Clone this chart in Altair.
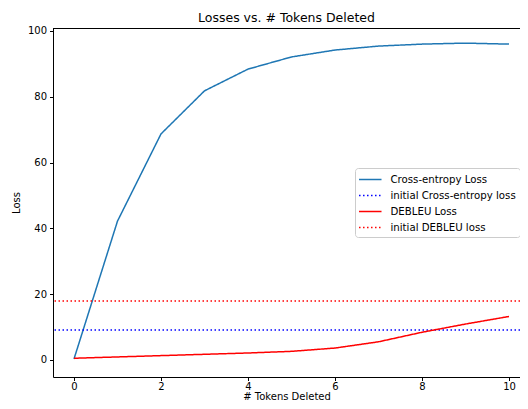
import altair as alt
import pandas as pd

tokens = [0, 1, 2, 3, 4, 5, 6, 7, 8, 9, 10]
ce_loss = [0.3, 42.2, 68.7, 81.8, 88.4, 92.1, 94.2, 95.4, 96.0, 96.3, 96.0]
debleu_loss = [0.5, 0.9, 1.3, 1.7, 2.1, 2.6, 3.6, 5.5, 8.4, 10.9, 13.2]
init_ce = 9.1
init_debleu = 17.9

series_names = ["Cross-entropy Loss", "initial Cross-entropy loss", "DEBLEU Loss", "initial DEBLEU loss"]
series_colors = ["#1f77b4", "#0000ff", "#ff0000", "#ff0000"]
series_dash = [[1, 0], [1.5, 2.5], [1, 0], [1.5, 2.5]]

rows = []
for t, v in zip(tokens, ce_loss):
    rows.append({"x": t, "y": v, "series": series_names[0]})
for t in [-1, 11]:
    rows.append({"x": t, "y": init_ce, "series": series_names[1]})
for t, v in zip(tokens, debleu_loss):
    rows.append({"x": t, "y": v, "series": series_names[2]})
for t in [-1, 11]:
    rows.append({"x": t, "y": init_debleu, "series": series_names[3]})
df = pd.DataFrame(rows)

font = "DejaVu Sans"
W, H = 467, 349

lines = alt.Chart(df).mark_line(strokeWidth=1.5, clip=True).encode(
    x=alt.X("x:Q", scale=alt.Scale(domain=[-0.483, 10.253], nice=False, zero=False),
            axis=alt.Axis(values=[0, 2, 4, 6, 8, 10], title="# Tokens Deleted", format="d",
                          titleY=22, titleBaseline="alphabetic", labelPadding=1)),
    y=alt.Y("y:Q", scale=alt.Scale(domain=[-5.2, 100.9], nice=False, zero=False),
            axis=alt.Axis(values=[0, 20, 40, 60, 80, 100], title="Loss", format="d")),
    color=alt.Color("series:N", scale=alt.Scale(domain=series_names, range=series_colors),
                    legend=alt.Legend(title=None, orient="none", legendX=302, legendY=140)),
    strokeDash=alt.StrokeDash("series:N", scale=alt.Scale(domain=series_names, range=series_dash),
                              legend=alt.Legend(title=None, orient="none", legendX=302, legendY=140)),
    order=alt.Order("x:Q"),
    detail="series:N",
)

top_spine = alt.Chart(pd.DataFrame({"a": [0]})).mark_rule(color="black", strokeWidth=1).encode(
    x=alt.value(0), x2=alt.value(W), y=alt.value(0.5)
)

chart = alt.layer(lines, top_spine).properties(
    width=W, height=H,
    title=alt.TitleParams("Losses vs. # Tokens Deleted", font=font, fontSize=12.5, fontWeight="normal", color="black", offset=1),
    autosize=alt.AutoSizeParams(type="none"),
    padding={"left": 45, "top": 20, "right": 0, "bottom": 24},
).configure_view(
    stroke=None
).configure_axis(
    grid=False, domainColor="black", tickColor="black", tickSize=3.5,
    labelFont=font, labelFontSize=10, labelColor="black", labelPadding=3,
    titleFont=font, titleFontSize=10, titleColor="black", titleFontWeight="normal",
).configure_axisY(titlePadding=6).configure_legend(
    labelFont=font, labelFontSize=10.2, labelColor="black",
    symbolType="M-1.15,0H2.31", symbolSize=169, symbolStrokeWidth=1.5,
    strokeColor="#cccccc", fillColor="white", cornerRadius=3, padding=4,
    rowPadding=3, labelOffset=16.5,
)

chart.save("out.html", embed_options={"renderer": "svg", "actions": False})
